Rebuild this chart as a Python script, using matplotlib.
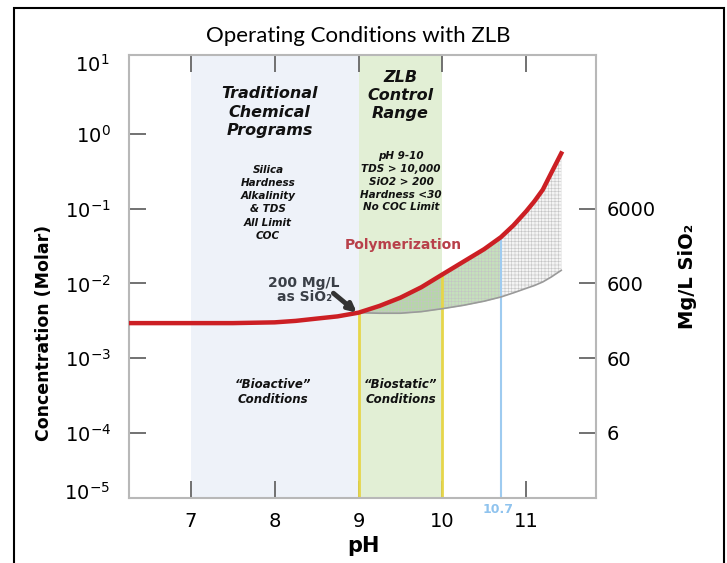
import matplotlib.pyplot as plt
from matplotlib.patches import Rectangle
from matplotlib.ticker import NullLocator
import numpy as np

# red solubility curve (pH, molar)
ph_curve = [6.26, 7.0, 7.5, 8.0, 8.25, 8.5, 8.75, 9.0, 9.25, 9.5, 9.75, 10.0,
            10.25, 10.5, 10.7, 10.85, 11.0, 11.1, 11.2, 11.3, 11.42]
conc_curve = [0.00295, 0.00295, 0.00295, 0.00302, 0.00316, 0.00339, 0.00363, 0.00407,
              0.00501, 0.00646, 0.00891, 0.0132, 0.0195, 0.0288, 0.0417, 0.060,
              0.092, 0.126, 0.18, 0.30, 0.55]

# lower grey boundary of polymerization zone
ph_band = [9.0, 9.25, 9.5, 9.75, 10.0, 10.25, 10.5, 10.7, 10.85, 11.0, 11.1, 11.2,
           11.3, 11.42]
conc_lower = [0.00407, 0.0040, 0.0040, 0.0042, 0.0046, 0.0051, 0.0058, 0.0066,
              0.0075, 0.0086, 0.0094, 0.0105, 0.0122, 0.0150]

x_ticks = [7, 8, 9, 10, 11]
y_ticks = [1e-4, 1e-3, 1e-2, 1e-1, 1e0]
y_labels = ['$10^{-4}$', '$10^{-3}$', '$10^{-2}$', '$10^{-1}$', '$10^{0}$']
mgl_ticks = [6, 60, 600, 6000]
mgl_labels = ['6', '60', '600', '6000']

ph_trad = (7, 9)
ph_zlb = (9, 10)
ph_limit = 10.7

plt.rcParams['hatch.linewidth'] = 0.4

fig = plt.figure(figsize=(7.27, 5.63), dpi=100)
ax = fig.add_axes([129/727, 1 - 498/563, (596 - 129)/727, (498 - 55)/563])
ax.set_yscale('log')
ax.set_xlim(6.26, 11.835)
ylo, yhi = 10**-4.87, 10**1.057
ax.set_ylim(ylo, yhi)

ax.axvspan(*ph_trad, color='#eef2f9', lw=0, zorder=0)
ax.axvspan(*ph_zlb, color='#e2efd5', lw=0, zorder=0)

red_at = dict(zip(ph_curve, conc_curve))
band_ph = np.array(ph_band)
upper = np.array([red_at[p] for p in ph_band])
lower = np.array(conc_lower)

ax.fill_between(band_ph, lower, upper, where=band_ph <= ph_limit, color='#8cc27a',
                alpha=0.5, lw=0, zorder=1)
ax.fill_between(band_ph, lower, upper, where=band_ph >= ph_limit, color='#f4f4f4',
                lw=0, zorder=1)
ax.fill_between(band_ph, lower, upper, facecolor='none', edgecolor='#c4c4c4',
                hatch='+++++', lw=0, zorder=1.5)

ax.vlines([9, 10], ylo, [red_at[9.0], red_at[10.0]], color='#e6d64a', lw=2, zorder=2)
ax.vlines(ph_limit, ylo, red_at[10.7], color='#9ecbf0', lw=1.5, zorder=2)

ax.plot(ph_band, conc_lower, color='#9a9a9a', lw=1.2, zorder=3)
ax.plot(ph_curve, conc_curve, color='#cc1f24', lw=3.2, zorder=4)

for s in ax.spines.values():
    s.set_color('#b8b8b8')
    s.set_linewidth(1.5)
ax.spines['right'].set_visible(False)

ax.set_xticks(x_ticks)
ax.set_yticks(y_ticks)
ax.set_yticklabels(y_labels)
ax.yaxis.set_minor_locator(NullLocator())
ax.tick_params(axis='both', direction='in', length=12, width=1.3, color='#666666',
               top=True, bottom=True, labelsize=14)
ax.tick_params(axis='y', pad=13)
ax.tick_params(axis='x', pad=10)

tr = ax.get_yaxis_transform()
ax.text(-0.041, 10**0.92, '$10^{1}$', transform=tr, ha='right', va='center', fontsize=14)
ax.text(-0.041, 10**-4.80, '$10^{-5}$', transform=tr, ha='right', va='center', fontsize=14)

sec = ax.secondary_yaxis('right', functions=(lambda c: c*6e4, lambda m: m/6e4))
sec.set_yticks(mgl_ticks)
sec.set_yticklabels(mgl_labels)
sec.yaxis.set_minor_locator(NullLocator())
sec.tick_params(direction='in', length=12, width=1.3, color='#666666', labelsize=14, pad=8)
sec.spines['right'].set_color('#b8b8b8')
sec.spines['right'].set_linewidth(1.5)
sec.set_ylabel('Mg/L SiO₂', fontsize=14, fontweight='bold', labelpad=16)

ax.set_ylabel('Concentration (Molar)', fontsize=12.5, fontweight='bold')
ax.yaxis.set_label_coords(-0.162, 0.372)
ax.set_xlabel('pH', fontsize=15, fontweight='bold')
ax.xaxis.set_label_coords(0.501, -0.085)

fig.text(358/727, 1 - 36/563, 'Operating Conditions with ZLB', family='Lato',
         fontsize=16, ha='center', va='center')

bi = dict(fontweight='bold', style='italic', ha='center', va='center', color='#111111')
ax.text(7.94, 10**0.29, 'Traditional\nChemical\nPrograms', fontsize=11.5, linespacing=1.3, **bi)
ax.text(9.50, 10**0.51, 'ZLB\nControl\nRange', fontsize=11.5, linespacing=1.25, **bi)
ax.text(7.92, 10**-0.92, 'Silica\nHardness\nAlkalinity\n& TDS\nAll Limit\nCOC',
        fontsize=7.5, linespacing=1.4, **bi)
ax.text(9.51, 10**-0.64, 'pH 9-10\nTDS > 10,000\nSiO2 > 200\nHardness <30\nNo COC Limit',
        fontsize=7.5, linespacing=1.35, **bi)
ax.text(7.98, 10**-3.45, '“Bioactive”\nConditions', fontsize=8.5, linespacing=1.2, **bi)
ax.text(9.50, 10**-3.45, '“Biostatic”\nConditions', fontsize=8.5, linespacing=1.2, **bi)

ax.text(9.53, 10**-1.48, 'Polymerization', fontsize=10, fontweight='bold',
        color='#b8404a', ha='center', va='center', zorder=5)
ax.text(8.35, 10**-2.09, '200 Mg/L\nas SiO₂', fontsize=10, fontweight='bold',
        color='#3a3f47', ha='center', va='center', linespacing=1.0)
ax.annotate('', xy=(8.98, 10**-2.39), xytext=(8.70, 10**-2.13),
            arrowprops=dict(arrowstyle='-|>', lw=3.5, color='#333333',
                            mutation_scale=12, shrinkA=0, shrinkB=0), zorder=5)
ax.text(ph_limit - 0.03, 10**-5.03, '10.7', fontsize=9, fontweight='bold',
        color='#8fc3ee', ha='center', va='center', clip_on=False)

fig.patches.append(Rectangle((14/727, -0.1), (724 - 14)/727, 1.1 - 8/563,
                             transform=fig.transFigure, fill=False, ec='black', lw=1.5))

fig.savefig('out.png', dpi=100)
